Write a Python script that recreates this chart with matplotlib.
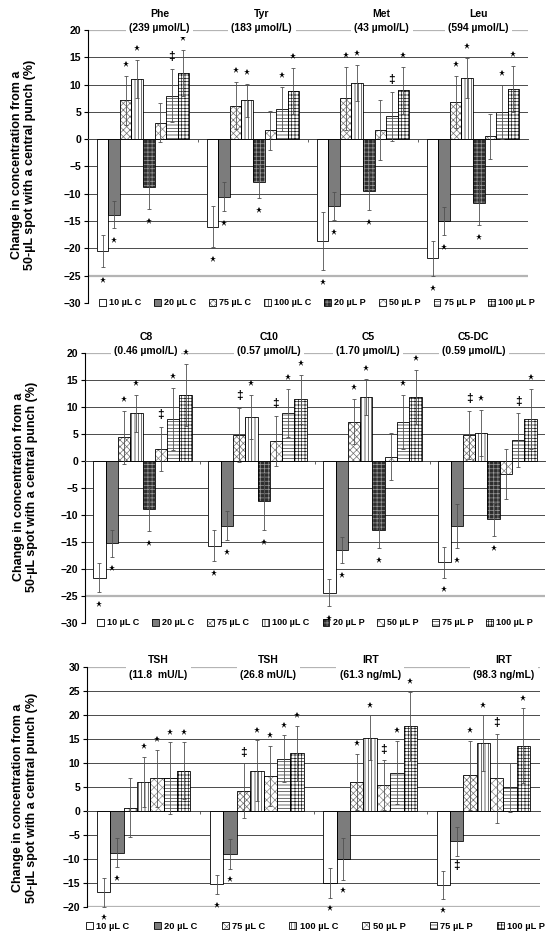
import matplotlib
matplotlib.use("Agg")
import matplotlib.pyplot as plt
from matplotlib.patches import Patch
from matplotlib.legend_handler import HandlerTuple
import numpy as np

plt.rcParams['font.family'] = ['Liberation Sans', 'DejaVu Sans']
plt.rcParams['font.weight'] = 'bold'
plt.rcParams['hatch.linewidth'] = 0.5

# series names
series_8 = ['10 µL C', '20 µL C', '75 µL C', '100 µL C', '20 µL P', '50 µL P', '75 µL P', '100 µL P']
series_7 = ['10 µL C', '20 µL C', '75 µL C', '100 µL C', '50 µL P', '75 µL P', '100 µL P']

# panel 1: amino acids
aa_names = ['Phe', 'Tyr', 'Met', 'Leu']
aa_conc = ['(239 µmol/L)', '(183 µmol/L)', '(43 µmol/L)', '(594 µmol/L)']
phe = [-20.5, -13.8, 7.1, 11.0, -8.8, 3.0, 8.0, 12.2]
phe_err = [3.0, 2.5, 4.5, 3.5, 4.0, 3.6, 4.8, 4.2]
phe_sig = ['*', '*', '*', '*', '*', '', '‡', '*']
tyr = [-16.0, -10.5, 6.1, 7.1, -7.8, 1.6, 5.5, 8.8]
tyr_err = [3.7, 2.7, 4.3, 3.0, 3.0, 3.6, 4.0, 4.2]
tyr_sig = ['*', '*', '*', '*', '*', '', '*', '*']
met = [-18.7, -12.2, 7.5, 10.3, -9.4, 1.7, 4.2, 9.0]
met_err = [5.3, 2.6, 5.8, 3.3, 3.6, 5.5, 4.5, 4.3]
met_sig = ['*', '*', '*', '*', '*', '', '‡', '*']
leu = [-21.8, -15.0, 6.8, 11.2, -11.7, 0.5, 5.0, 9.2]
leu_err = [3.2, 2.6, 4.7, 3.7, 4.0, 4.2, 5.0, 4.2]
leu_sig = ['*', '*', '*', '*', '*', '', '*', '*']

# panel 2: acylcarnitines
ac_names = ['C8', 'C10', 'C5', 'C5-DC']
ac_conc = ['(0.46 µmol/L)', '(0.57 µmol/L)', '(1.70 µmol/L)', '(0.59 µmol/L)']
c8 = [-21.6, -15.2, 4.4, 8.8, -8.9, 2.2, 7.8, 12.2]
c8_err = [2.7, 2.5, 4.9, 3.5, 4.0, 4.1, 5.7, 5.8]
c8_sig = ['*', '*', '*', '*', '*', '‡', '*', '*']
c10 = [-15.7, -12.0, 4.8, 8.2, -7.5, 3.7, 8.9, 11.4]
c10_err = [2.9, 2.7, 5.0, 4.1, 5.3, 4.6, 4.5, 4.5]
c10_sig = ['*', '*', '‡', '*', '*', '‡', '*', '*']
c5 = [-24.4, -16.5, 7.3, 11.8, -12.7, 0.8, 7.3, 11.8]
c5_err = [2.5, 2.4, 4.2, 3.3, 3.5, 4.3, 5.0, 5.0]
c5_sig = ['*', '*', '*', '*', '*', '', '*', '*']
c5dc = [-18.8, -12.0, 4.8, 5.2, -10.8, -2.4, 3.8, 7.8]
c5dc_err = [2.8, 4.1, 4.5, 4.2, 3.1, 4.6, 5.0, 5.5]
c5dc_sig = ['*', '*', '‡', '*', '*', '', '‡', '*']

# panel 3: TSH / IRT
hp_names = ['TSH', 'TSH', 'IRT', 'IRT']
hp_conc = ['(11.8  mU/L)', '(26.8 mU/L)', '(61.3 ng/mL)', '(98.3 ng/mL)']
tsh1 = [-16.9, -8.7, 0.7, 6.1, 6.8, 6.8, 8.4]
tsh1_err = [3.0, 3.0, 6.2, 5.2, 6.0, 7.5, 5.9]
tsh1_sig = ['*', '*', '', '*', '*', '*', '*']
tsh2 = [-15.3, -8.9, 4.2, 8.4, 7.3, 10.9, 12.0]
tsh2_err = [2.0, 3.1, 5.7, 6.3, 6.3, 4.9, 5.8]
tsh2_sig = ['*', '*', '‡', '*', '*', '*', '*']
irt1 = [-15.0, -10.0, 6.1, 15.3, 5.4, 8.0, 17.6]
irt1_err = [3.1, 4.3, 5.8, 4.6, 5.2, 6.6, 7.2]
irt1_sig = ['*', '*', '*', '*', '‡', '*', '*']
irt2 = [-15.4, -6.3, 7.4, 14.1, 6.8, 4.9, 13.6]
irt2_err = [3.0, 3.0, 7.2, 5.8, 9.3, 5.1, 7.8]
irt2_sig = ['*', '‡', '*', '*', '‡', '', '*']

# bar styles for the 8 series: facecolor, hatch, hatch colour
styles = {
    '10 µL C': ('white', None, 'black'),
    '20 µL C': ('#7c7c7c', None, 'black'),
    '75 µL C': ('white', 'xxxxx', '#707070'),
    '100 µL C': ('white', '|||||', '#333333'),
    '20 µL P': ('#2e2e2e', '++++', '#9a9a9a'),
    '50 µL P': ('white', 'xxxx', '#8a8a8a'),
    '75 µL P': ('white', '-----', '#333333'),
    '100 µL P': ('white', '+++++', '#222222'),
}

ylab = 'Change in concentration from a\n50-µL spot with a central punch (%)'


def draw_panel(ax, names, concs, vals, errs, sigs, series, width, ylim,
               light, label_dx, label_y, ylab_x, ylab_y):
    n = len(series)
    x = np.arange(len(names))
    ticks = np.arange(ylim[0], ylim[1] + 1, 5)
    for t in ticks:
        if t in light:
            ax.axhline(t, color='#b4b4b4', lw=1.6, zorder=0)
        elif t != ylim[0]:
            ax.axhline(t, color='#4a4a4a', lw=0.7, zorder=0)
    vals = np.array(vals)
    errs = np.array(errs)
    handles = []
    for i, s in enumerate(series):
        fc, hatch, hc = styles[s]
        pos = x + (i - (n - 1) / 2) * width
        ax.bar(pos, vals[:, i], width, color=fc, hatch=hatch, edgecolor=hc,
               linewidth=0, zorder=2)
        ax.bar(pos, vals[:, i], width, fill=False, edgecolor='black', linewidth=0.6, zorder=3)
        ax.errorbar(pos, vals[:, i], yerr=errs[:, i], fmt='none', ecolor='#505050',
                    elinewidth=0.6, capsize=1.4, capthick=0.6, zorder=4)
        handles.append((Patch(facecolor=fc, hatch=hatch, edgecolor=hc, linewidth=0),
                        Patch(fill=False, edgecolor='black', linewidth=0.6)))
        for k in range(len(names)):
            mark = sigs[k][i]
            if not mark:
                continue
            v, e = vals[k, i], errs[k, i]
            y = v + e + 2.2 if v >= 0 else v - e - 2.2
            if mark == '*':
                ax.plot(pos[k], y, marker='*', ms=4.8, color='black', mew=0,
                        clip_on=False, zorder=5)
            else:
                ax.text(pos[k], y, mark, ha='center', va='center', fontsize=8.5,
                        fontweight='bold', zorder=5, clip_on=False)
    for k in range(len(names)):
        ax.text(x[k] + label_dx[k], label_y, names[k] + '\n' + concs[k],
                transform=ax.get_xaxis_transform(), ha='center', va='center',
                fontsize=7.5, fontweight='bold', linespacing=1.55, zorder=6,
                bbox=dict(facecolor='white', edgecolor='none', pad=2.5))
    ax.set_xlim(-0.5, len(names) - 0.5)
    ax.set_ylim(ylim)
    ax.set_yticks(ticks)
    ax.tick_params(axis='y', labelsize=7.5, length=3, width=0.8, pad=2)
    ax.spines['top'].set_visible(False)
    ax.spines['right'].set_visible(False)
    ax.spines['bottom'].set_position(('data', 0))
    ax.spines['bottom'].set_color('#4a4a4a')
    ax.spines['bottom'].set_linewidth(0.7)
    ax.set_xticks(x[:-1] + 0.5)
    ax.set_xticklabels([])
    ax.tick_params(axis='x', length=2.5, width=0.6, color='#4a4a4a')
    ax.set_ylabel(ylab, fontsize=9, fontweight='bold', linespacing=1.15)
    ax.yaxis.set_label_coords(ylab_x, ylab_y)
    return handles


legend_kw = dict(frameon=False, handlelength=0.75, handleheight=0.75,
                 handletextpad=0.35, borderaxespad=0,
                 handler_map={tuple: HandlerTuple(ndivide=1, pad=0)})

fig = plt.figure(figsize=(5.52, 9.34), dpi=100)

ax1 = fig.add_axes([0.1594, 0.6756, 0.7971, 0.2923])
h1 = draw_panel(ax1, aa_names, aa_conc,
                [phe, tyr, met, leu], [phe_err, tyr_err, met_err, leu_err],
                [phe_sig, tyr_sig, met_sig, leu_sig],
                series_8, 0.105, (-30, 20), (20, -25),
                [0.15, 0.08, 0.17, 0.05], 1.033, -0.118, 0.505)
ax1.legend(h1, series_8, loc='center', bbox_to_anchor=(0.52, 0.0), ncol=8,
           prop=dict(size=6.5, weight='bold'), columnspacing=1.45, **legend_kw)

ax2 = fig.add_axes([0.1540, 0.3330, 0.8333, 0.2891])
h2 = draw_panel(ax2, ac_names, ac_conc,
                [c8, c10, c5, c5dc], [c8_err, c10_err, c5_err, c5dc_err],
                [c8_sig, c10_sig, c5_sig, c5dc_sig],
                series_8, 0.107, (-30, 20), (20, -25),
                [0.03, 0.1, -0.04, -0.12], 1.033, -0.102, 0.504)
ax2.legend(h2, series_8, loc='center', bbox_to_anchor=(0.5, 0.0), ncol=8,
           prop=dict(size=6.5, weight='bold'), columnspacing=1.45, **legend_kw)

ax3 = fig.add_axes([0.1576, 0.0289, 0.8207, 0.2570])
h3 = draw_panel(ax3, hp_names, hp_conc,
                [tsh1, tsh2, irt1, irt2], [tsh1_err, tsh2_err, irt1_err, irt2_err],
                [tsh1_sig, tsh2_sig, irt1_sig, irt2_sig],
                series_7, 0.118, (-20, 30), (30, -20),
                [0.13, 0.1, 0.0, 0.18], 0.998, -0.109, 0.454)
ax3.legend(h3, series_7, loc='lower left', bbox_to_anchor=(-0.01, -0.115, 1.03, 0.06), ncol=7,
           mode='expand', prop=dict(size=6.7, weight='bold'), **legend_kw)

fig.savefig('out.png', dpi=100)
